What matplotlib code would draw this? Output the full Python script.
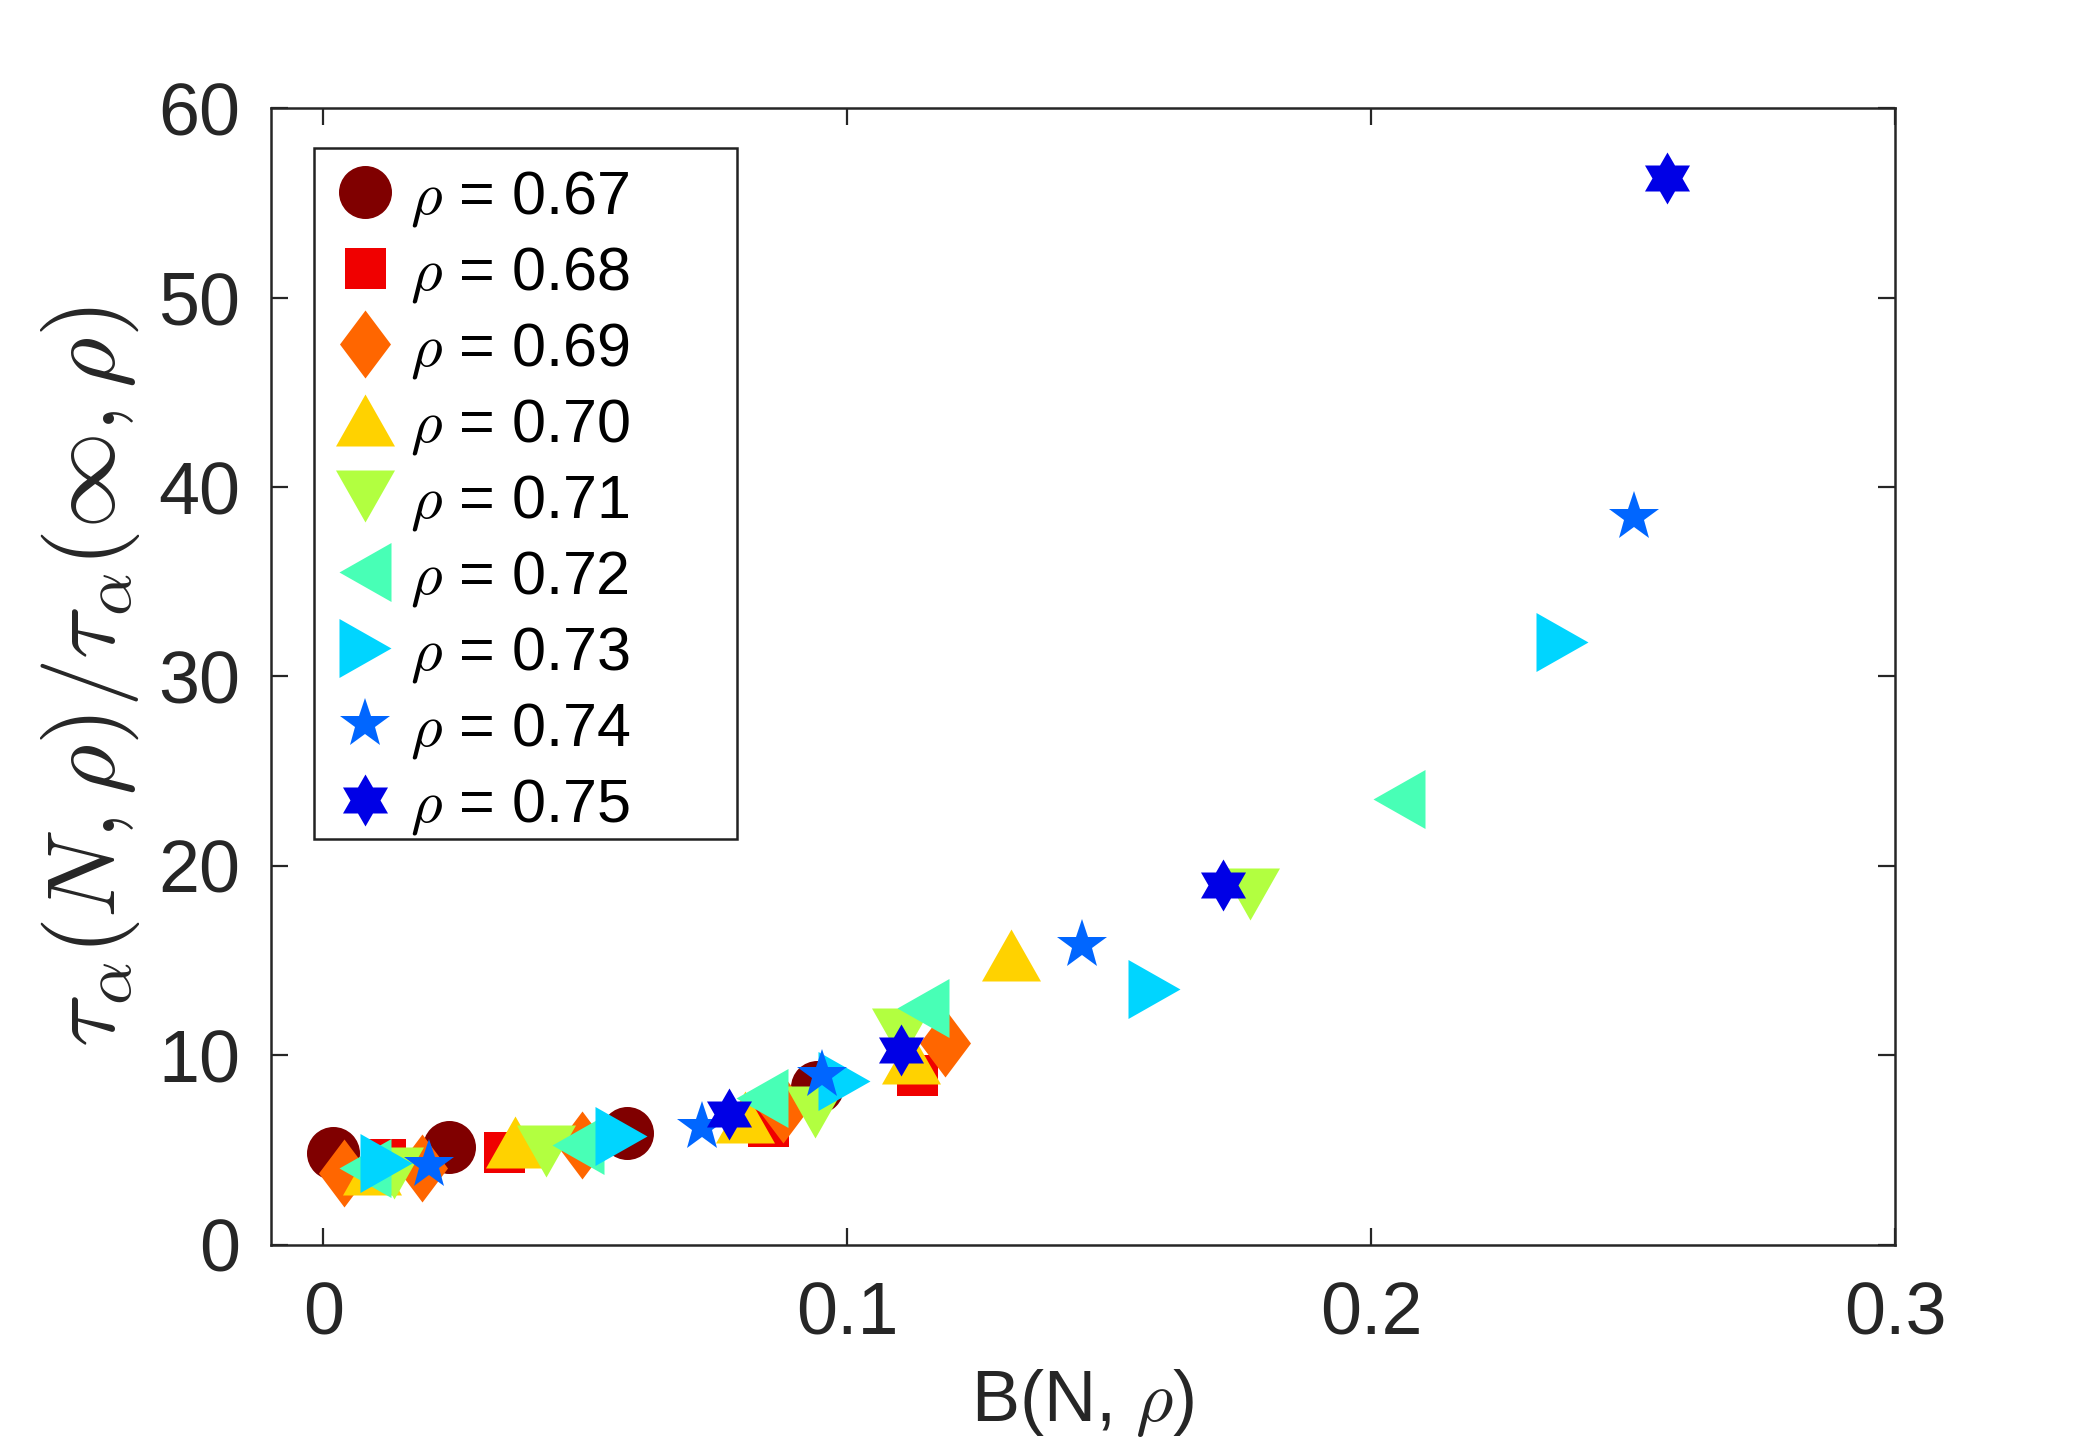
import matplotlib
matplotlib.use("Agg")
import matplotlib.pyplot as plt
from matplotlib.path import Path
from matplotlib.patches import Rectangle

plt.rcParams['font.family'] = ['Liberation Sans', 'DejaVu Sans']
plt.rcParams['mathtext.fontset'] = 'cm'

# ---------------- data ----------------
rho_labels = ['0.67', '0.68', '0.69', '0.70', '0.71', '0.72', '0.73', '0.74', '0.75']

B_067 = [0.0018, 0.024, 0.058, 0.0943]
T_067 = [4.83, 5.15, 5.89, 8.33]
B_068 = [0.0118, 0.0345, 0.0849, 0.1134]
T_068 = [4.5, 4.9, 6.25, 8.97]
B_069 = [0.004, 0.0188, 0.0494, 0.0878, 0.1186]
T_069 = [3.76, 4.06, 5.24, 7.15, 10.62]
B_070 = [0.0092, 0.0365, 0.0805, 0.1122, 0.1312]
T_070 = [4.0, 5.43, 6.73, 9.84, 15.3]
B_071 = [0.0135, 0.0425, 0.0938, 0.1102, 0.1768]
T_071 = [3.75, 4.95, 7.0, 11.1, 18.5]
B_072 = [0.008, 0.0486, 0.0838, 0.1145, 0.2053]
T_072 = [4.03, 5.25, 7.74, 12.5, 23.5]
B_073 = [0.012, 0.0568, 0.0993, 0.1585, 0.2364]
T_073 = [4.3, 5.73, 8.63, 13.5, 31.8]
B_074 = [0.0202, 0.0722, 0.0951, 0.1448, 0.2501]
T_074 = [4.2, 6.22, 8.95, 15.8, 38.4]
B_075 = [0.0775, 0.1103, 0.1718, 0.2564]
T_075 = [6.89, 10.27, 19.0, 56.3]

x_ticks = [0, 0.1, 0.2, 0.3]
x_tick_labels = ['0', '0.1', '0.2', '0.3']
y_ticks = [0, 10, 20, 30, 40, 50, 60]
y_tick_labels = ['0', '10', '20', '30', '40', '50', '60']

# ---------------- styles ----------------
colors = ['#800000', '#F00000', '#FF6600', '#FFD200', '#B2FF40',
          '#48FFB6', '#00D5FF', '#0066FF', '#0000E6']

h = 52.0 / 59.0
tri_up = [(0, h), (-1, -h), (1, -h), (0, h)]
tri_down = [(0, -h), (-1, h), (1, h), (0, -h)]
tri_left = [(-h, 0), (h, 1), (h, -1), (-h, 0)]
tri_right = [(h, 0), (-h, 1), (-h, -1), (h, 0)]
diamond = [(0, 1), (0.75, 0), (0, -1), (-0.75, 0), (0, 1)]
hexagram = Path.unit_regular_star(6, 0.57735)

px2pt = 72.0 / 200.0
markers = ['o', 's', diamond, tri_up, tri_down, tri_left, tri_right, '*', hexagram]
sizes_px = [53, 41, 68, 59, 59, 59, 59, 52.6, 52]

series = [(B_067, T_067), (B_068, T_068), (B_069, T_069), (B_070, T_070),
          (B_071, T_071), (B_072, T_072), (B_073, T_073), (B_074, T_074),
          (B_075, T_075)]

fig = plt.figure(figsize=(10.48, 7.21), dpi=200)
ax = fig.add_axes([271 / 2096, 1 - 1244.5 / 1442, (1895 - 271) / 2096, (1244.5 - 108.3) / 1442])

for (bx, ty), lab, c, m, s in zip(series, rho_labels, colors, markers, sizes_px):
    ax.plot(bx, ty, linestyle='none', marker=m, markersize=s * px2pt,
            color=c, markeredgewidth=0, label=r'$\rho$ = ' + lab)

ax.set_xlim(-0.01, 0.3)
ax.set_ylim(0, 60)
ax.set_xticks(x_ticks)
ax.set_xticklabels(x_tick_labels)
ax.set_yticks(y_ticks)
ax.set_yticklabels(y_tick_labels)

dark = '#262626'
for sp in ax.spines.values():
    sp.set_linewidth(0.9)
    sp.set_color(dark)
ax.tick_params(direction='in', length=6, width=0.8, top=True, right=True,
               colors=dark, labelsize=26.5)
ax.tick_params(axis='x', pad=13)
ax.tick_params(axis='y', pad=11)

ax.set_xlabel(r'B(N, $\rho$)', fontsize=26, color=dark)
ax.xaxis.set_label_coords(0.5, -0.108)
ax.set_ylabel(r'$\tau_\alpha(N,\rho)/\tau_\alpha(\infty,\rho)$',
              fontsize=35, color=dark)
ax.yaxis.set_label_coords(-0.0794, 0.5)

# legend frame drawn explicitly
frame = Rectangle((0.0265, 0.357), 0.2869 - 0.0265, 0.9652 - 0.357,
                  transform=ax.transAxes, facecolor='white', edgecolor='#222222',
                  linewidth=0.9, zorder=4)
ax.add_patch(frame)

leg = ax.legend(loc='upper left', bbox_to_anchor=(0.0328, 0.947),
                fontsize=22, frameon=False, borderpad=0, labelspacing=0.262,
                handlelength=1.32, handletextpad=0.08, borderaxespad=0,
                numpoints=1)
leg.set_zorder(5)

fig.savefig('out.png', dpi=200, facecolor='white')
